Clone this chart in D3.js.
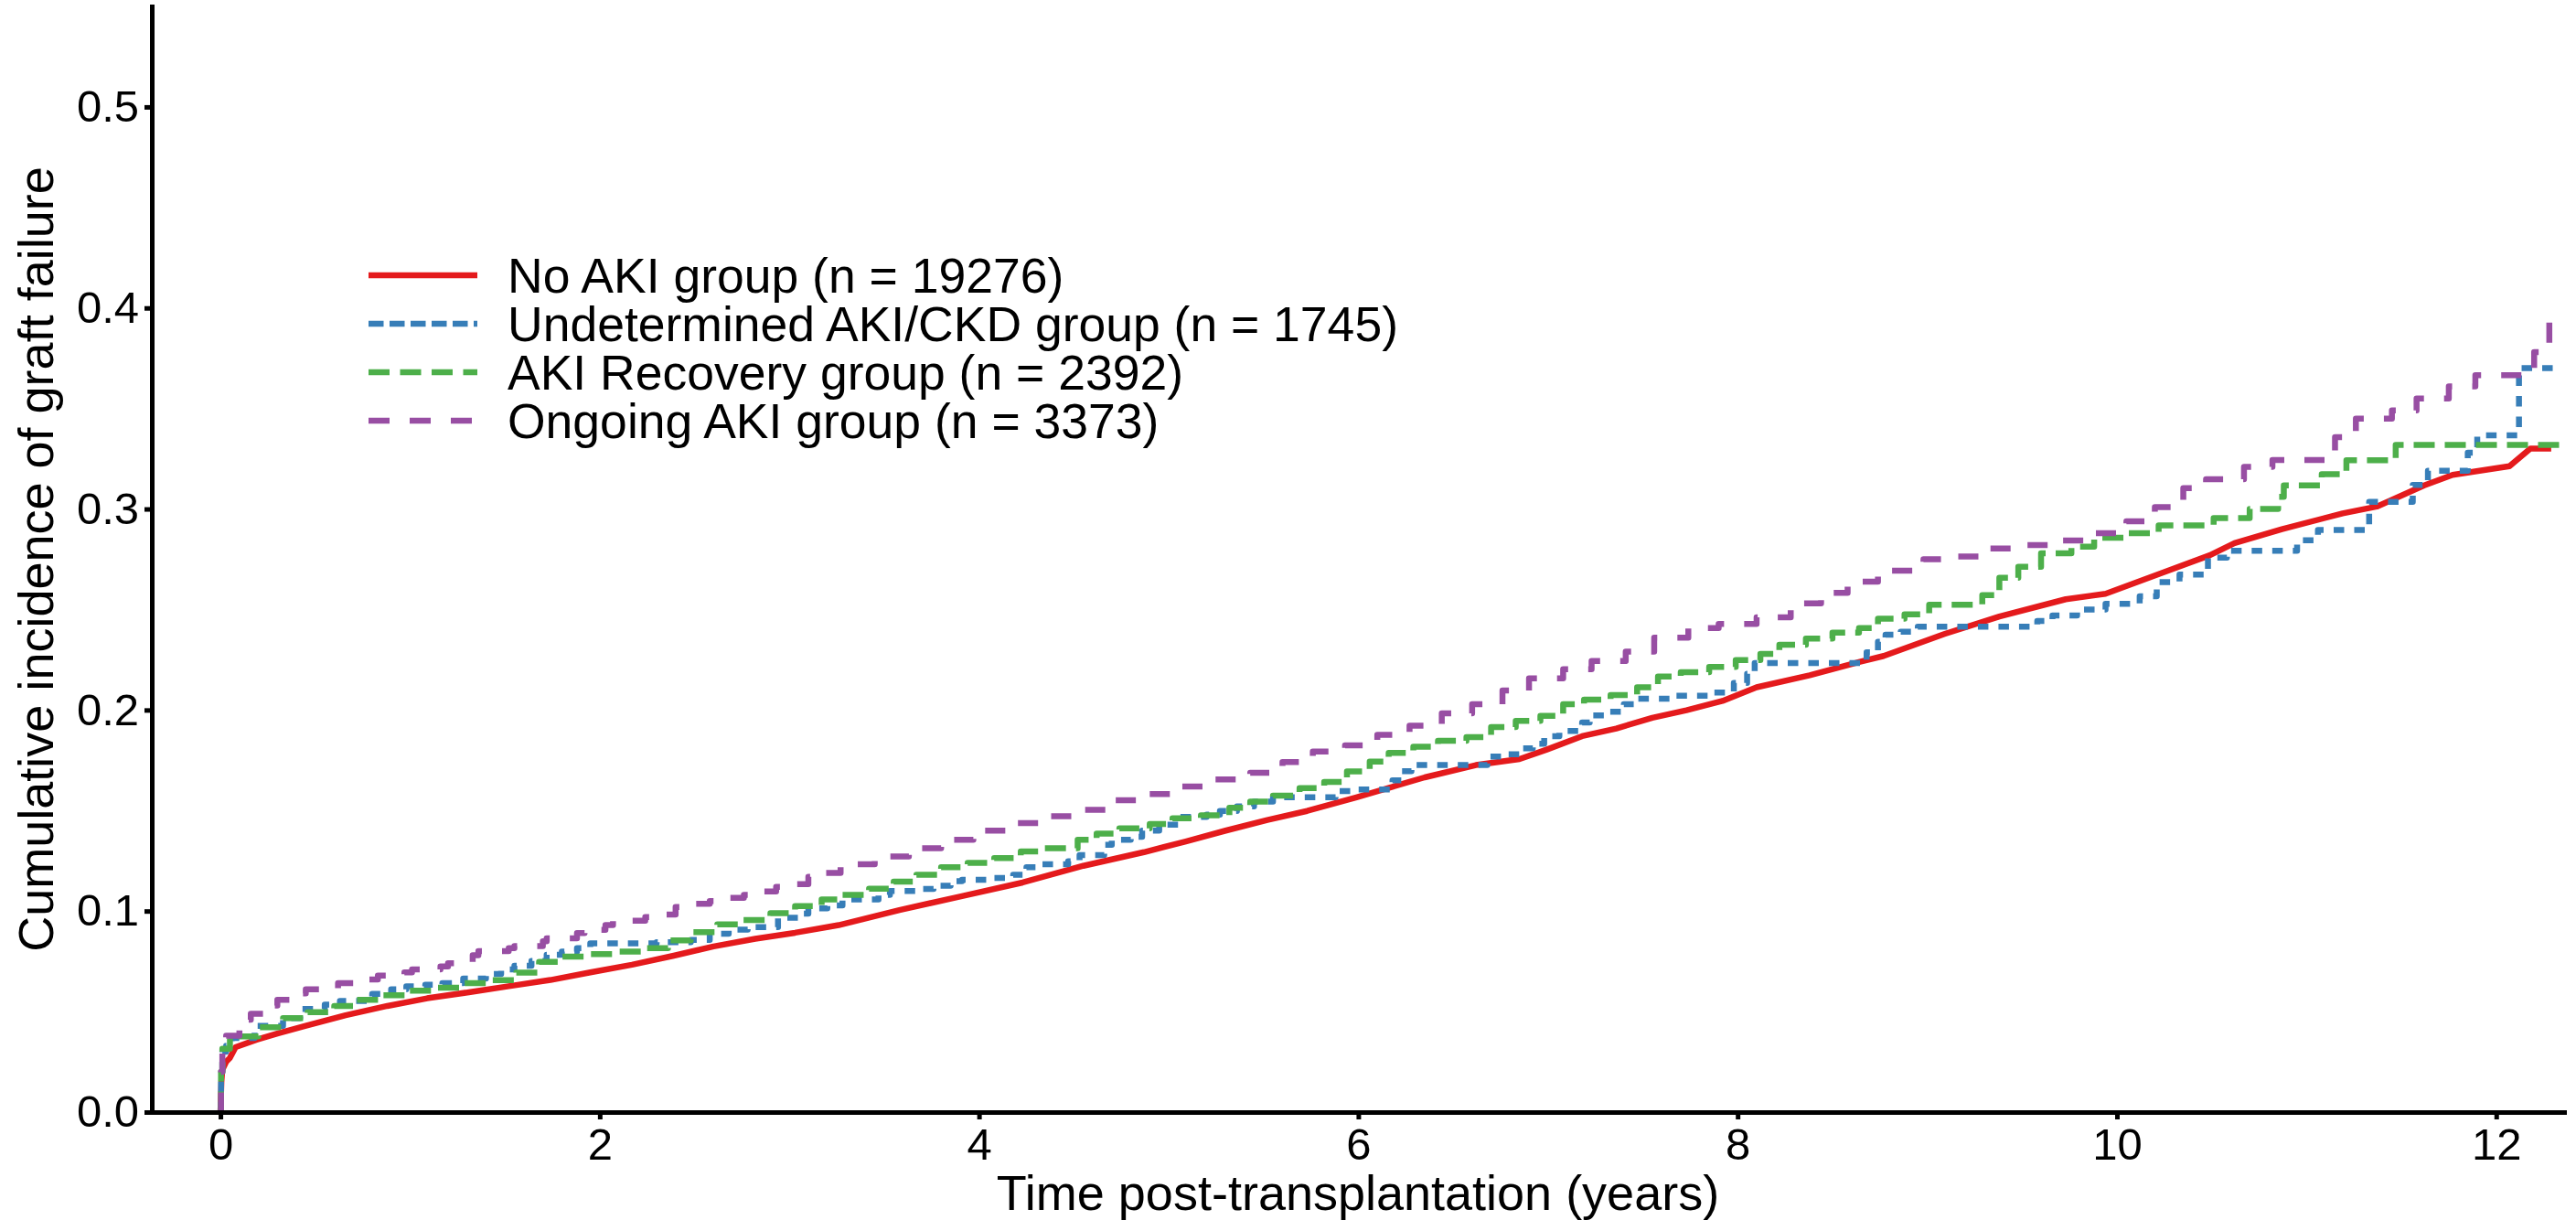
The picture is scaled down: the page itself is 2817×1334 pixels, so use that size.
<!DOCTYPE html>
<html>
<head>
<meta charset="utf-8">
<script src="https://cdn.jsdelivr.net/npm/d3@7/dist/d3.min.js"></script>
<style>
  html, body { margin: 0; padding: 0; background: #fff; }
  svg { display: block; }
  text { font-family: "Liberation Sans", Arial, Helvetica, sans-serif; fill: #000; }
</style>
</head>
<body>
<svg id="chart" width="2817" height="1334"></svg>
<script>
// ---------------- data ----------------
const seriesNames = [
  "No AKI group (n = 19276)",
  "Undetermined AKI/CKD group (n = 1745)",
  "AKI Recovery group (n = 2392)",
  "Ongoing AKI group (n = 3373)"
];
const seriesColors = ["#E41A1C", "#377EB8", "#4DAF4A", "#984EA3"];

const xTicks = [0, 2, 4, 6, 8, 10, 12];
const yTicks = [0.0, 0.1, 0.2, 0.3, 0.4, 0.5];

// [years, cumulative incidence]
const noAki = [
  [0,0],[0.005,0.015],[0.01,0.021],[0.03,0.025],[0.05,0.027],[0.08,0.0323],[0.19,0.036],
  [0.3,0.0391],[0.45,0.0429],[0.66,0.0482],[0.88,0.0528],[1.09,0.0566],[1.31,0.0596],
  [1.52,0.0626],[1.74,0.0657],[1.95,0.0695],[2.17,0.0733],[2.39,0.0778],[2.6,0.0824],
  [2.82,0.0862],[3.03,0.0892],[3.26,0.0930],[3.58,0.1005],[3.91,0.1074],[4.23,0.1142],
  [4.55,0.1225],[4.87,0.1293],[5.09,0.1346],[5.3,0.1400],[5.52,0.1453],[5.73,0.1498],
  [5.99,0.1566],[6.35,0.1665],[6.62,0.1726],[6.85,0.1756],[6.99,0.1802],[7.18,0.187],
  [7.36,0.1908],[7.55,0.1961],[7.73,0.1999],[7.92,0.2045],[8.1,0.2113],[8.38,0.2173],
  [8.65,0.2241],[8.77,0.2269],[9.09,0.2378],[9.38,0.2465],[9.73,0.2551],[9.94,0.2578],
  [10.24,0.2683],[10.49,0.277],[10.62,0.283],[10.87,0.290],[11.19,0.2978],[11.37,0.3012],
  [11.62,0.3117],[11.77,0.317],[12.07,0.3213],[12.18,0.330],[12.29,0.330]
];

const undetermined = [
  [0,0],[0.003,0.02],[0.01,0.03],[0.03,0.033],[0.06,0.0368],[0.18,0.0429],[0.33,0.0467],
  [0.42,0.0513],[0.55,0.0535],[0.63,0.0553],[0.8,0.0588],[0.9,0.0611],[0.98,0.0626],
  [1.08,0.0634],[1.17,0.0641],[1.28,0.0664],[1.4,0.0687],[1.48,0.071],[1.55,0.0728],
  [1.64,0.0752],[1.72,0.0783],[1.8,0.0798],[1.88,0.0816],[1.95,0.0839],[2.3,0.0845],
  [2.48,0.0856],[2.58,0.0887],[2.68,0.0908],[2.78,0.0920],[2.94,0.0967],[3.05,0.0987],
  [3.1,0.1013],[3.2,0.1028],[3.28,0.1058],[3.47,0.1081],[3.53,0.1100],[3.7,0.111],
  [3.76,0.1126],[3.85,0.1149],[3.91,0.1156],[4.05,0.1165],[4.18,0.118],[4.25,0.1218],
  [4.32,0.1233],[4.47,0.1248],[4.53,0.1278],[4.66,0.133],[4.7,0.1354],[4.8,0.1369],
  [4.86,0.1400],[4.95,0.1430],[5.05,0.1468],[5.2,0.148],[5.27,0.1498],[5.36,0.1521],
  [5.45,0.1544],[5.55,0.1566],[5.88,0.1597],[5.98,0.1605],[6.18,0.165],[6.23,0.1696],
  [6.28,0.1726],[6.68,0.1768],[6.78,0.178],[6.86,0.181],[6.92,0.1832],[6.98,0.187],
  [7.06,0.1896],[7.18,0.1938],[7.22,0.1973],[7.32,0.1991],[7.4,0.2029],[7.46,0.2056],
  [7.66,0.2071],[7.87,0.2087],[7.98,0.2135],[8.05,0.218],[8.09,0.2234],[8.68,0.2287],
  [8.74,0.234],[8.78,0.2375],[8.86,0.239],[8.95,0.2414],[9.58,0.2443],[9.66,0.247],
  [9.79,0.25],[9.94,0.2528],[10.12,0.2566],[10.21,0.2636],[10.33,0.2674],[10.48,0.2758],
  [10.58,0.2792],[10.95,0.2844],[11.06,0.2896],[11.33,0.3035],[11.56,0.312],[11.64,0.319],
  [11.85,0.328],[11.9,0.3366],[12.12,0.3701],[12.35,0.3701]
];

const akiRecovery = [
  [0,0],[0.003,0.02],[0.01,0.0315],[0.05,0.0376],[0.2,0.0422],[0.33,0.0467],[0.46,0.0497],
  [0.6,0.0528],[0.72,0.0558],[0.85,0.0581],[0.98,0.0604],[1.13,0.0619],[1.27,0.0641],
  [1.43,0.0656],[1.56,0.0694],[1.68,0.0747],[1.8,0.0773],[1.95,0.0786],[2.1,0.0798],
  [2.25,0.0816],[2.36,0.0854],[2.48,0.0895],[2.62,0.0934],[2.75,0.0955],[2.9,0.099],
  [3.03,0.1025],[3.17,0.1058],[3.28,0.1081],[3.42,0.1111],[3.55,0.1146],[3.67,0.1180],
  [3.8,0.1218],[3.94,0.1240],[4.08,0.1263],[4.22,0.1296],[4.34,0.1312],[4.52,0.1354],
  [4.62,0.1385],[4.74,0.1411],[4.9,0.1433],[5.02,0.1461],[5.17,0.1476],[5.32,0.1514],
  [5.43,0.1544],[5.55,0.1574],[5.69,0.1612],[5.82,0.1642],[5.94,0.1695],[6.06,0.1744],
  [6.16,0.1787],[6.29,0.1817],[6.42,0.1847],[6.57,0.1865],[6.7,0.1915],[6.83,0.1946],
  [6.96,0.1971],[7.08,0.2029],[7.19,0.2052],[7.33,0.2075],[7.47,0.2113],[7.58,0.2166],
  [7.7,0.2188],[7.85,0.2214],[7.99,0.2249],[8.12,0.2279],[8.22,0.2325],[8.36,0.2355],
  [8.5,0.2385],[8.64,0.2408],[8.74,0.2454],[8.88,0.2476],[9.01,0.2524],[9.29,0.2572],
  [9.38,0.2658],[9.48,0.2712],[9.6,0.278],[9.76,0.2813],[9.88,0.2857],[10.05,0.288],
  [10.22,0.2918],[10.51,0.2955],[10.7,0.300],[10.85,0.306],[10.88,0.3117],[11.08,0.3173],
  [11.21,0.3242],[11.47,0.3319],[12.35,0.3319]
];

const ongoingAki = [
  [0,0],[0.003,0.02],[0.01,0.033],[0.03,0.038],[0.1,0.0422],[0.13,0.046],[0.16,0.0489],
  [0.26,0.053],[0.3,0.0558],[0.4,0.059],[0.45,0.0611],[0.62,0.0641],[0.78,0.066],
  [0.83,0.0679],[0.97,0.0695],[1.01,0.071],[1.16,0.0725],[1.2,0.074],[1.33,0.078],
  [1.36,0.0801],[1.52,0.0815],[1.55,0.0826],[1.7,0.085],[1.72,0.0864],[1.88,0.089],
  [1.92,0.0907],[2.03,0.093],[2.07,0.0952],[2.24,0.097],[2.27,0.0983],[2.4,0.102],
  [2.43,0.1036],[2.58,0.105],[2.61,0.1066],[2.76,0.108],[2.79,0.1097],[2.93,0.112],
  [2.97,0.1134],[3.1,0.117],[3.14,0.119],[3.27,0.1233],[3.45,0.1271],[3.63,0.1313],
  [3.8,0.1354],[3.97,0.1400],[4.14,0.1437],[4.33,0.1472],[4.51,0.1503],[4.68,0.1551],
  [4.88,0.1582],[5.06,0.1620],[5.23,0.1655],[5.43,0.1688],[5.6,0.1741],[5.76,0.1794],
  [5.93,0.1824],[6.1,0.1877],[6.27,0.1922],[6.44,0.1984],[6.6,0.2029],[6.76,0.2097],
  [6.9,0.2158],[7.08,0.2203],[7.23,0.2244],[7.41,0.229],[7.56,0.2360],[7.74,0.2408],
  [7.9,0.2428],[8.1,0.2461],[8.28,0.253],[8.44,0.2583],[8.58,0.2639],[8.74,0.2693],
  [8.98,0.275],[9.15,0.2764],[9.33,0.2804],[9.47,0.282],[9.7,0.2843],[9.87,0.288],
  [10.05,0.2939],[10.2,0.3009],[10.35,0.3104],[10.47,0.3148],[10.67,0.3209],[10.82,0.3244],
  [11.15,0.3357],[11.26,0.3449],[11.45,0.349],[11.58,0.355],[11.75,0.361],[11.89,0.3666],
  [12.2,0.378],[12.28,0.394],[12.36,0.394]
];

// ---------------- drawing ----------------
const svg = d3.select("#chart");
const x = d3.scaleLinear().domain([-0.362, 12.358]).range([166, 2804]);
const y = d3.scaleLinear().domain([0, 0.55]).range([1216, 7]);

const allSeries = [noAki, undetermined, akiRecovery, ongoingAki];
const curves = [d3.curveLinear, d3.curveStepAfter, d3.curveStepAfter, d3.curveStepAfter];
const plotDash = [null, "11.5,11", "23,11", "22,22"];
const legendDash = [null, "16.5,6.5", "23,11.5", "23,22"];

allSeries.forEach((series, i) => {
  const line = d3.line().x(d => x(d[0])).y(d => y(d[1])).curve(curves[i]);
  svg.append("path")
    .datum(series)
    .attr("d", line)
    .attr("fill", "none")
    .attr("stroke", seriesColors[i])
    .attr("stroke-width", 6.5)
    .attr("stroke-linejoin", "round")
    .attr("stroke-dasharray", plotDash[i]);
});

// axes
const xAxis = d3.axisBottom(x).tickValues(xTicks).tickFormat(d3.format("d"))
  .tickSize(8).tickSizeOuter(0).tickPadding(9);
const yAxis = d3.axisLeft(y).tickValues(yTicks).tickFormat(d3.format(".1f"))
  .tickSize(8).tickSizeOuter(0).tickPadding(6);

const gx = svg.append("g").attr("transform", "translate(0,1216)").call(xAxis);
const gy = svg.append("g").attr("transform", "translate(166,0)").call(yAxis);

[gx, gy].forEach(g => {
  g.select(".domain").attr("stroke", "#000").attr("stroke-width", 5).attr("stroke-linecap", "square");
  g.selectAll(".tick line").attr("stroke", "#000").attr("stroke-width", 5);
  g.selectAll(".tick text").attr("font-size", 49).attr("fill", "#000")
    .style("font-family", '"Liberation Sans", Arial, sans-serif');
});

// axis titles
svg.append("text")
  .attr("x", (166 + 2804) / 2)
  .attr("y", 1323)
  .attr("text-anchor", "middle")
  .attr("font-size", 54)
  .text("Time post-transplantation (years)");

svg.append("text")
  .attr("transform", "translate(58," + ((7 + 1216) / 2) + ") rotate(-90)")
  .attr("text-anchor", "middle")
  .attr("font-size", 54)
  .text("Cumulative incidence of graft failure");

// legend
const legendRows = [301, 354, 407, 460];
const legend = svg.append("g");
seriesNames.forEach((name, i) => {
  legend.append("line")
    .attr("x1", 403).attr("x2", 522)
    .attr("y1", legendRows[i]).attr("y2", legendRows[i])
    .attr("stroke", seriesColors[i])
    .attr("stroke-width", 6.5)
    .attr("stroke-dasharray", legendDash[i]);
  legend.append("text")
    .attr("x", 555)
    .attr("y", legendRows[i])
    .attr("dy", "0.35em")
    .attr("font-size", 53.5)
    .text(name);
});
</script>
</body>
</html>
